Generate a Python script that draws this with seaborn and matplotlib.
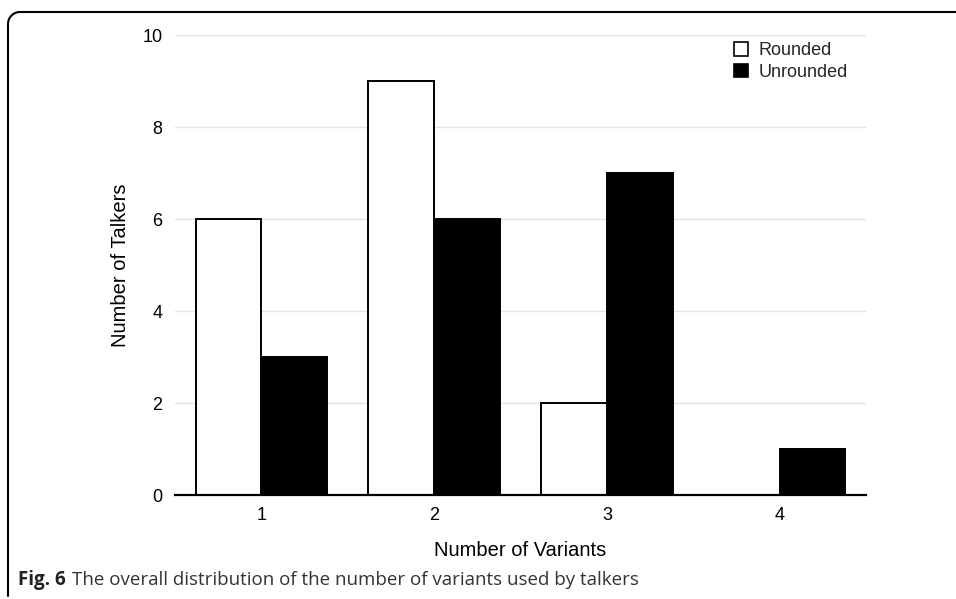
import numpy as np
import pandas as pd
import matplotlib
matplotlib.use("Agg")
import matplotlib.pyplot as plt
import seaborn as sns
from matplotlib.patches import Patch

# data
variants = ["1", "2", "3", "4"]
rounded = [6, 9, 2, 0]
unrounded = [3, 6, 7, 1]

df = pd.DataFrame({
    "variants": variants * 2,
    "talkers": rounded + unrounded,
    "shape": ["Rounded"] * 4 + ["Unrounded"] * 4,
})

sns.set_theme(style="white")
plt.rcParams["font.family"] = ["Liberation Sans", "DejaVu Sans"]

W, H = 956, 599
fig = plt.figure(figsize=(W / 100, H / 100), dpi=100)
ax = fig.add_axes([175 / W, 1 - 495 / H, 691 / W, 460 / H])

sns.barplot(data=df, x="variants", y="talkers", hue="shape",
            palette={"Rounded": "white", "Unrounded": "black"},
            edgecolor="black", linewidth=1.4, width=0.76,
            legend=False, ax=ax)

ax.set_ylim(0, 10)
ax.set_xlim(-0.5, 3.5)
ax.set_yticks([0, 2, 4, 6, 8, 10])
ax.yaxis.grid(True, color="#e3e3e3", linewidth=1)
ax.set_axisbelow(True)
for s in ["top", "right", "left"]:
    ax.spines[s].set_visible(False)
ax.spines["bottom"].set_color("black")
ax.spines["bottom"].set_linewidth(1.6)
ax.tick_params(axis="both", length=0, labelsize=13, colors="black")
ax.tick_params(axis="y", pad=9)
ax.tick_params(axis="x", pad=9)
ax.set_xlabel("Number of Variants", fontsize=14.5, labelpad=12, color="black")
ax.set_ylabel("Number of Talkers", fontsize=14.5, labelpad=9, color="black")

handles = [Patch(facecolor="white", edgecolor="black", linewidth=1.2, label="Rounded"),
           Patch(facecolor="black", edgecolor="black", linewidth=1.2, label="Unrounded")]
ax.legend(handles=handles, loc="upper left", bbox_to_anchor=((727 - 175) / 691, 1.0),
          frameon=False, fontsize=13, handlelength=0.75, handleheight=0.75,
          handletextpad=0.6, labelspacing=0.25, borderaxespad=0)

# caption: bold label followed by plain text
cap_y = 1 - 580 / H
t1 = fig.text(18 / W, cap_y, "Fig. 6", fontsize=13.5, fontweight="bold",
              family=["Open Sans", "DejaVu Sans"], color="#222222", va="center")
fig.canvas.draw()
bb = t1.get_window_extent()
fig.text((bb.x1 + 6) / W, cap_y, "The overall distribution of the number of variants used by talkers",
         fontsize=13.5, family=["Open Sans", "DejaVu Sans"], color="#333333", va="center")

# frame around the figure
r = 12
x0, y0 = 8, 12
fig.add_artist(plt.Line2D([x0 / W, x0 / W], [1 - (y0 + r) / H, 1 - 596 / H],
                          transform=fig.transFigure, color="black", linewidth=1.5))
fig.add_artist(plt.Line2D([(x0 + r) / W, 1.0], [1 - y0 / H, 1 - y0 / H],
                          transform=fig.transFigure, color="black", linewidth=1.5))
t = np.linspace(np.pi / 2, np.pi, 20)
fig.add_artist(plt.Line2D((x0 + r + r * np.cos(t)) / W, 1 - (y0 + r - r * np.sin(t)) / H,
                          transform=fig.transFigure, color="black", linewidth=1.5))

fig.savefig("out.png", dpi=100)
